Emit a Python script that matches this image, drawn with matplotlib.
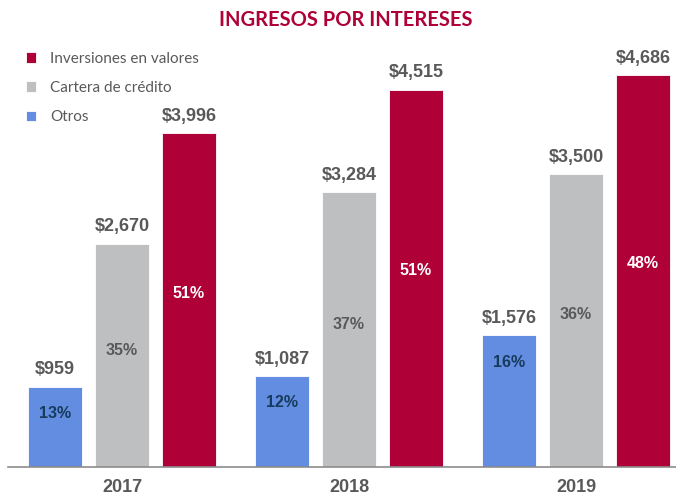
import matplotlib
matplotlib.use("Agg")
import matplotlib.pyplot as plt
import numpy as np

years = ["2017", "2018", "2019"]
series_names = ["Otros", "Cartera de crédito", "Inversiones en valores"]
otros = [959, 1087, 1576]
cartera = [2670, 3284, 3500]
inversiones = [3996, 4515, 4686]
pct_otros = ["13%", "12%", "16%"]
pct_cartera = ["35%", "37%", "36%"]
pct_inversiones = ["51%", "51%", "48%"]

colors = ["#628DE0", "#BEBFC1", "#AF0037"]
pct_colors = ["#173B5C", "#595959", "white"]
label_gray = "#595959"

fig = plt.figure(figsize=(6.76, 4.99), dpi=100)
ax = fig.add_axes([8 / 676, 32 / 499, 668 / 676, 427 / 499])

x = np.arange(len(years))
step = 0.295
width = 0.236
values = [otros, cartera, inversiones]
pcts = [pct_otros, pct_cartera, pct_inversiones]

bars_all = []
for i, (vals, col) in enumerate(zip(values, colors)):
    bars = ax.bar(x + (i - 1) * step, vals, width, color=col,
                  edgecolor="white", linewidth=0.6, label=series_names[i])
    bars_all.append(bars)
    for b, v, p in zip(bars, vals, pcts[i]):
        cx = b.get_x() + b.get_width() / 2
        ax.annotate("${:,}".format(v), (cx, v), xytext=(0, 6),
                    textcoords="offset points", ha="center", va="bottom",
                    fontsize=13, fontweight="bold", color=label_gray,
                    family="Liberation Sans")
        if i == 0:
            py = v - 320
        else:
            py = v * 0.52
        ax.text(cx, py, p, ha="center", va="center", fontsize=11.5,
                fontweight="bold", color=pct_colors[i], family="Liberation Sans")

ax.set_xlim(-0.502, 2.44)
ax.set_ylim(0, 5108)
for s in ["top", "right", "left"]:
    ax.spines[s].set_visible(False)
ax.spines["bottom"].set_color("#8C8C8C")
ax.spines["bottom"].set_linewidth(1.2)
ax.set_yticks([])
ax.set_xticks(x)
ax.set_xticklabels(years, fontsize=13, fontweight="bold", color=label_gray,
                   family="Liberation Sans")
ax.tick_params(axis="x", length=0, pad=9)

fig.text(346 / 676, 1 - 20 / 499, "INGRESOS POR INTERESES", ha="center",
         va="center", fontsize=14.5, fontweight="bold", color="#AF0037",
         family="Lato")

handles = [bars_all[2], bars_all[1], bars_all[0]]
leg = fig.legend(handles, [series_names[2], series_names[1], series_names[0]],
                 loc="upper left", bbox_to_anchor=(12 / 676, 1 - 38 / 499),
                 frameon=False, handlelength=0.7, handleheight=0.7,
                 handletextpad=0.9, labelspacing=1.0,
                 prop={"family": "Lato", "size": 11})
for t in leg.get_texts():
    t.set_color(label_gray)

fig.savefig("out.png", dpi=100)
